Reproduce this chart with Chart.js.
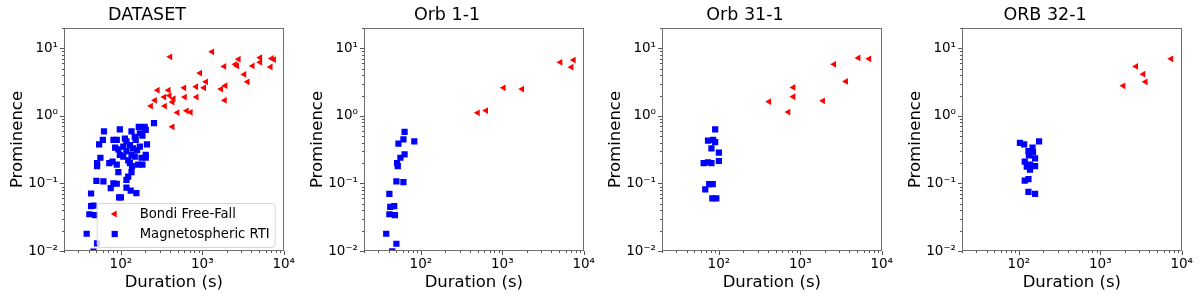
<!DOCTYPE html>
<html lang="en">
<head>
<meta charset="UTF-8">
<title>Prominence vs Duration</title>
<script src="https://cdn.jsdelivr.net/npm/chart.js@4"></script>
<style>
  body { margin: 0; background: #fff; }
  #wrap { position: relative; width: 1200px; height: 298px; }
  #wrap canvas { position: absolute; top: 0; }
</style>
</head>
<body>
<div id="wrap">
  <canvas id="p0" width="300" height="298" style="left:0px"></canvas>
  <canvas id="p1" width="300" height="298" style="left:300px"></canvas>
  <canvas id="p2" width="300" height="298" style="left:598px"></canvas>
  <canvas id="p3" width="300" height="298" style="left:898px"></canvas>
</div>
<script>
// ---- data ----
const panelTitles = ['DATASET', 'Orb 1-1', 'Orb 31-1', 'ORB 32-1'];
const seriesNames = ['Bondi Free-Fall', 'Magnetospheric RTI'];
const xTickValues = [100, 1000, 10000];
const xTickLabels = ['10²', '10³', '10⁴'];
const yTickValues = [0.01, 0.1, 1, 10];
const yTickLabels = ['10⁻²', '10⁻¹', '10⁰', '10¹'];

// DATASET
const allBondiDur  = [1320, 404, 2800, 2550, 2670, 1860, 5140, 5140, 7140, 7600, 6900, 4150, 3280, 3600, 940, 1110, 1920, 1700, 1890, 1050, 840, 600, 850, 610, 283, 385, 341, 396, 443, 430, 262, 234, 347, 495, 644, 720, 430];
const allBondiProm = [8.9, 7.5, 6.9, 5.8, 5.5, 5.4, 7.3, 6.2, 7.1, 6.8, 5.3, 5.5, 4.1, 3.2, 4.3, 3.2, 2.8, 2.5, 1.7, 2.6, 2.7, 2.6, 1.9, 1.9, 2.4, 2.4, 1.9, 2.0, 1.8, 1.6, 1.7, 1.4, 1.4, 1.12, 1.19, 1.13, 0.69];
const allRtiDur  = [255, 166, 196, 202, 135, 171, 62, 97, 60, 54, 81, 89, 112, 117, 148, 152, 184, 209, 107, 129, 141, 158, 171, 85, 93, 97, 117, 135, 107, 123, 148, 179, 202, 202, 56, 51, 51, 72, 79, 129, 137, 163, 184, 89, 93, 135, 123, 117, 50, 61, 81, 89, 75, 117, 132, 155, 43, 95, 100, 46, 43, 41, 48, 38, 51, 46];
const allRtiProm = [0.78, 0.69, 0.69, 0.62, 0.59, 0.55, 0.59, 0.63, 0.44, 0.38, 0.44, 0.44, 0.46, 0.42, 0.49, 0.44, 0.51, 0.38, 0.35, 0.37, 0.33, 0.31, 0.35, 0.34, 0.32, 0.265, 0.30, 0.265, 0.25, 0.22, 0.25, 0.24, 0.265, 0.24, 0.24, 0.20, 0.18, 0.20, 0.21, 0.20, 0.18, 0.19, 0.19, 0.19, 0.147, 0.147, 0.126, 0.113, 0.109, 0.107, 0.10, 0.099, 0.085, 0.087, 0.078, 0.072, 0.071, 0.062, 0.062, 0.047, 0.046, 0.035, 0.034, 0.018, 0.013, 0.0098];

// Orb 1-1
const orb1BondiDur  = [500, 632, 1040, 1750, 5170, 7530, 7060];
const orb1BondiProm = [1.11, 1.2, 2.6, 2.5, 6.2, 6.7, 5.25];
const orb1RtiDur  = [63, 61, 53, 83, 63, 56, 51, 52, 50, 61, 41, 42, 47, 41, 48, 37.5, 50, 44.5];
const orb1RtiProm = [0.58, 0.45, 0.39, 0.42, 0.27, 0.24, 0.20, 0.18, 0.107, 0.105, 0.070, 0.045, 0.046, 0.035, 0.034, 0.018, 0.0128, 0.0099];

// Orb 31-1
const orb31BondiDur  = [414, 713, 822, 822, 1900, 2600, 3640, 5180, 7030];
const orb31BondiProm = [1.62, 1.14, 2.64, 1.92, 1.67, 5.8, 3.24, 7.2, 7.0];
const orb31RtiDur  = [90, 73.5, 85, 90, 81, 100, 65, 73.5, 81, 100, 68, 76, 84, 83, 93];
const orb31RtiProm = [0.63, 0.43, 0.44, 0.41, 0.33, 0.285, 0.20, 0.205, 0.20, 0.215, 0.082, 0.098, 0.098, 0.060, 0.060];

// ORB 32-1
const orb32BondiDur  = [1920, 2750, 3380, 3600, 7420];
const orb32BondiProm = [2.79, 5.4, 4.15, 3.2, 7.0];
const orb32RtiDur  = [103, 116, 177, 147, 131, 149, 133, 158, 118, 137, 125, 158, 137, 131, 118, 131, 158];
const orb32RtiProm = [0.40, 0.38, 0.42, 0.34, 0.30, 0.29, 0.26, 0.235, 0.21, 0.19, 0.177, 0.18, 0.16, 0.116, 0.11, 0.075, 0.070];

const FONT = 'DejaVu Sans';
const FRAME = '#6f6f6f';

function pts(xs, ys) { return xs.map((x, i) => ({ x: x, y: ys[i] })); }

function logTicks(scale) {
  const t = [];
  const e0 = Math.floor(Math.log10(scale.min)), e1 = Math.ceil(Math.log10(scale.max));
  for (let e = e0; e <= e1; e++) {
    for (let m = 1; m <= 9; m++) {
      const v = Number((m * Math.pow(10, e)).toPrecision(6));
      if (v >= scale.min * 0.9999 && v <= scale.max * 1.0001) t.push({ value: v, major: m === 1 });
    }
  }
  scale.ticks = t;
}

function labelFor(values, labels) {
  return function (value) {
    const i = values.findIndex(v => Math.abs(v - value) / v < 1e-6);
    return i >= 0 ? labels[i] : '';
  };
}

// frame + outward tick marks, like matplotlib
const framePlugin = {
  id: 'frame',
  afterDatasetsDraw(chart) {
    const { ctx, chartArea: a, scales } = chart;
    ctx.save();
    ctx.strokeStyle = FRAME;
    ctx.lineWidth = 1;
    ctx.strokeRect(Math.round(a.left) + 0.5, Math.round(a.top) + 0.5,
      Math.round(a.right - a.left) - 1, Math.round(a.bottom - a.top) - 1);
    ctx.strokeStyle = '#555';
    ctx.beginPath();
    scales.x.ticks.forEach(t => {
      const px = Math.round(scales.x.getPixelForValue(t.value)) + 0.5;
      const len = t.major ? 4 : 2;
      ctx.moveTo(px, a.bottom); ctx.lineTo(px, a.bottom + len);
    });
    scales.y.ticks.forEach(t => {
      const py = Math.round(scales.y.getPixelForValue(t.value)) + 0.5;
      const len = t.major ? 4 : 2;
      ctx.moveTo(a.left, py); ctx.lineTo(a.left - len, py);
    });
    ctx.stroke();
    ctx.restore();
  }
};

// matplotlib-style legend inside the first panel
const legendPlugin = {
  id: 'boxLegend',
  afterDatasetsDraw(chart, args, opts) {
    if (!opts.show) return;
    const { ctx, chartArea: a } = chart;
    const w = 178, h = 44;
    const x0 = a.right - 9 - w, y0 = a.bottom - 4 - h;
    ctx.save();
    ctx.beginPath();
    ctx.roundRect(x0 + 0.5, y0 + 0.5, w, h, 3);
    ctx.fillStyle = 'rgba(255,255,255,0.8)';
    ctx.fill();
    ctx.strokeStyle = '#d6d6d6';
    ctx.stroke();
    ctx.font = '13.2px "' + FONT + '"';
    ctx.textBaseline = 'middle';
    chart.data.datasets.forEach((ds, i) => {
      const cy = y0 + 11 + i * 20;
      const cx = x0 + 18;
      ctx.fillStyle = ds.backgroundColor;
      ctx.beginPath();
      if (ds.pointStyle === 'triangle') {
        const r = ds.pointRadius;
        ctx.moveTo(cx - r, cy);
        ctx.lineTo(cx + r / 2, cy - r * 0.866);
        ctx.lineTo(cx + r / 2, cy + r * 0.866);
        ctx.closePath();
      } else {
        const s = ds.pointRadius * Math.SQRT1_2;
        ctx.rect(cx - s, cy - s, 2 * s, 2 * s);
      }
      ctx.fill();
      ctx.fillStyle = '#000';
      ctx.fillText(ds.label, x0 + 43, cy + 1);
    });
    ctx.restore();
  }
};

function makePanel(id, title, bDur, bProm, rDur, rProm, showLegend) {
  new Chart(document.getElementById(id), {
    type: 'scatter',
    data: {
      datasets: [
        {
          label: seriesNames[0],
          data: pts(bDur, bProm),
          backgroundColor: '#ff0000',
          borderWidth: 0,
          pointStyle: 'triangle',
          pointRotation: -90,
          pointRadius: 3.9,
          clip: 0
        },
        {
          label: seriesNames[1],
          data: pts(rDur, rProm),
          backgroundColor: '#0000ff',
          borderWidth: 0,
          pointStyle: 'rect',
          pointRadius: 4.4,
          clip: 0
        }
      ]
    },
    options: {
      responsive: false,
      animation: false,
      events: [],
      layout: { padding: { left: 8, right: 14, top: 0, bottom: 5 } },
      plugins: {
        legend: { display: false },
        tooltip: { enabled: false },
        title: {
          display: true,
          text: title,
          color: '#000',
          font: { family: FONT, size: 17.5, weight: 'normal' },
          padding: { top: 5, bottom: 2 }
        },
        boxLegend: { show: showLegend }
      },
      scales: {
        x: {
          type: 'logarithmic',
          min: 20,
          max: 10000,
          afterBuildTicks: logTicks,
          afterFit: s => { s.height = 42; },
          grid: { display: false, drawTicks: false },
          border: { display: false },
          ticks: {
            autoSkip: false,
            maxRotation: 0,
            padding: 5,
            color: '#000',
            font: { family: FONT, size: 13.5 },
            callback: labelFor(xTickValues, xTickLabels)
          },
          title: {
            display: true,
            text: 'Duration (s)',
            color: '#000',
            font: { family: FONT, size: 16.5 },
            padding: { top: 0, bottom: 0 }
          }
        },
        y: {
          type: 'logarithmic',
          min: 0.01,
          max: 20,
          afterBuildTicks: logTicks,
          afterFit: s => { s.width = 56; },
          grid: { display: false, drawTicks: false },
          border: { display: false },
          ticks: {
            autoSkip: false,
            padding: 6,
            color: '#000',
            font: { family: FONT, size: 13.5 },
            callback: labelFor(yTickValues, yTickLabels)
          },
          title: {
            display: true,
            text: 'Prominence',
            color: '#000',
            font: { family: FONT, size: 16.5 },
            padding: { top: 0, bottom: 0 }
          }
        }
      }
    },
    plugins: [framePlugin, legendPlugin]
  });
}

makePanel('p0', panelTitles[0], allBondiDur, allBondiProm, allRtiDur, allRtiProm, true);
makePanel('p1', panelTitles[1], orb1BondiDur, orb1BondiProm, orb1RtiDur, orb1RtiProm, false);
makePanel('p2', panelTitles[2], orb31BondiDur, orb31BondiProm, orb31RtiDur, orb31RtiProm, false);
makePanel('p3', panelTitles[3], orb32BondiDur, orb32BondiProm, orb32RtiDur, orb32RtiProm, false);
</script>
</body>
</html>
